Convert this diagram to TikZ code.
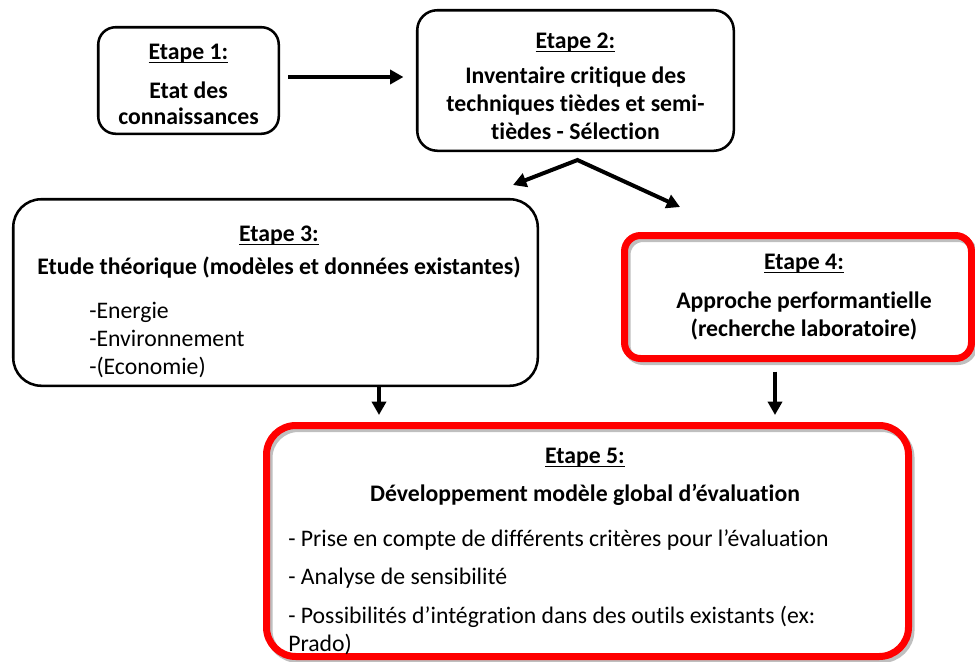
\documentclass[tikz,border=0pt]{standalone}
\usepackage{fontspec}
\setmainfont{Carlito}[Ligatures={NoCommon}]
\usetikzlibrary{positioning, calc, arrows.meta}
\newcommand{\steptitle}[1]{\setbox0\hbox{\bfseries #1}\rlap{\rule[-2.8pt]{\wd0}{1.2pt}}\box0}

\begin{document}
\begin{tikzpicture}[
    x=0.75pt, y=-0.75pt,
    stepbox/.style={rectangle, draw=black, line width=1.9pt, rounded corners=#1,
                    inner sep=0pt},
    stepbox/.default=13pt,
    keybox/.style={rectangle, draw=red, line width=5.25pt, rounded corners=#1,
                   inner sep=0pt,
                   preaction={draw=black!25, transform canvas={xshift=1.9pt, yshift=-2.25pt}}},
    keybox/.default=12pt,
    head/.style={align=center, anchor=base, inner sep=0pt,
                 font=\fontsize{17.8}{21}\selectfont\bfseries},
    items/.style={align=left, anchor=base west, inner sep=0pt,
                  font=\fontsize{17.8}{21}\selectfont},
    flow/.style={-{Triangle[length=10pt,width=10.5pt]}, line width=3pt},
  ]
    \useasboundingbox (0,0) rectangle (975,661);

    % boxes
    \node[stepbox, minimum width=135.4pt, minimum height=79.9pt] (s1) at (188.5,80.5) {};
    \node[stepbox=15pt, minimum width=237.4pt, minimum height=105.4pt] (s2) at (575.5,80.5) {};
    \node[stepbox=21pt, minimum width=393.4pt, minimum height=139.9pt] (s3) at (275.5,292.5) {};
    \node[keybox, minimum width=260.25pt, minimum height=92.25pt] (s4) at (798,297) {};
    \node[keybox=22pt, minimum width=481.5pt, minimum height=173.25pt] (s5) at (587.5,541) {};

    % texts (placed by the baseline of their last line)
    \node[head] (t1) at (188.5,124.5) {\steptitle{Etape 1:}\\[8.25pt] Etat des\\[-1.5pt] connaissances};
    \node[head] (t2) at (575.5,139.5) {\steptitle{Etape 2:}\\[5.25pt] Inventaire critique des\\
      techniques tièdes et semi-\\ tièdes - Sélection};
    \node[head] (t3) at (279,274.5) {\steptitle{Etape 3:}\\[3.75pt]
      Etude théorique (modèles et données existantes)};
    \node[items] (l3) at (89,374.5) {-Energie\\ -Environnement\\ -(Economie)};
    \node[head] (t4) at (804,336.5) {\steptitle{Etape 4:}\\[8.25pt] Approche performantielle\\
      (recherche laboratoire)};
    \node[head] (t5) at (585,501.5) {\steptitle{Etape 5:}\\[7.5pt]
      Développement modèle global d’évaluation};
    \node[items] (l5) at (288,651.5) {- Prise en compte de différents critères pour l’évaluation\\[7.5pt]
      - Analyse de sensibilité\\[8.25pt]
      - Possibilités d’intégration dans des outils existants (ex:\\ Prado)};

    % arrows
    \coordinate (fork) at ($(s2.south)+(2,8)$);
    \coordinate (tip3) at (513,185);
    \coordinate (tip4) at (680,207);
    \coordinate (drop3) at (379,0);
    \coordinate (drop4) at (775,0);

    \draw[flow] ($(s1.east)+(8,-3.5)$) -- ($(s2.west)+(-12.5,-3.5)$);
    \draw[flow, {Triangle[length=10pt,width=10.5pt]}-{Triangle[length=10pt,width=10.5pt]},
          line join=miter] (tip3) -- (fork) -- (tip4);
    \draw[flow] (s3.south -| drop3) -- ($(s5.north -| drop3)+(0,-7)$);
    \draw[flow] ($(s4.south -| drop4)+(0,9.5)$) -- ($(s5.north -| drop4)+(0,-7)$);
  \end{tikzpicture}
\end{document}
